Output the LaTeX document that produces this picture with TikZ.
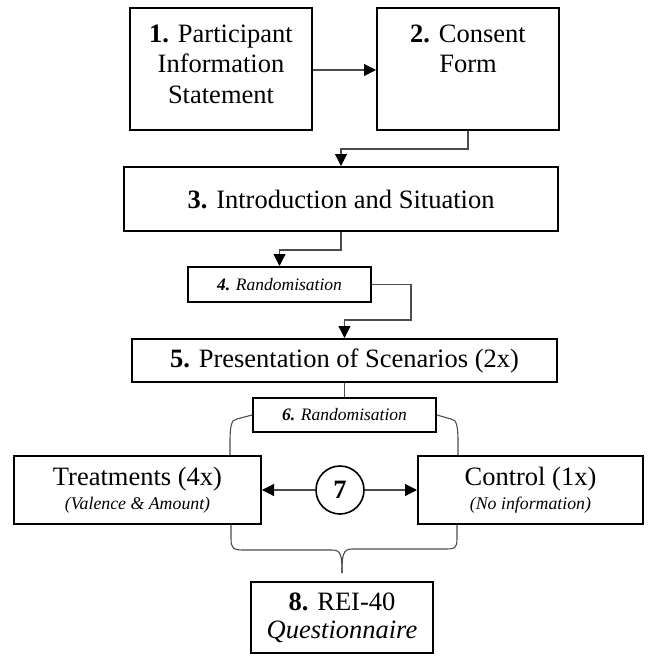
\documentclass[tikz,border=0pt]{standalone}
\usepackage{fontspec}
\setmainfont{Liberation Serif}[
  BoldFont={Liberation Serif Bold},
  ItalicFont={Liberation Serif Italic},
  BoldItalicFont={Liberation Serif Bold Italic}]
\usetikzlibrary{arrows.meta}
\tikzset{
  box/.style={draw,line width=2pt,align=center,inner sep=2pt},
  conn/.style={draw=black!70,line width=1.1pt},
  arr/.style={conn,-{Triangle[length=12pt,width=12pt,black]}},
}
\newcommand{\bigtxt}{\fontsize{26.5}{30.7}\selectfont}
\newcommand{\midtxt}{\fontsize{26.5}{28}\selectfont}
\newcommand{\randtxt}{\fontsize{17.5}{20}\selectfont\itshape}
\newcommand{\subtxt}{\fontsize{17.8}{20}\selectfont\itshape}
\begin{document}
\begin{tikzpicture}[x=1pt,y=-1pt]
\useasboundingbox (0,0) rectangle (648,656);
\node at (221,69) [box,font=\bigtxt,minimum width=182,minimum height=122] (pis) {\textbf{1.} Participant\\Information\\Statement\\[-21pt]\mbox{}};
\node at (468,69) [box,font=\bigtxt,minimum width=182,minimum height=122] (cf) {\textbf{2.} Consent\\Form\\\mbox{}\\[-21pt]\mbox{}};
\node at (341,199) [box,font=\midtxt,minimum width=434,minimum height=64] (intro) {\textbf{3.} Introduction and Situation};
\node at (279.5,284.5) [box,font=\randtxt,minimum width=183,minimum height=35] (rand1) {\textbf{4.} Randomisation};
\node at (344.5,360.5) [box,font=\midtxt,minimum width=425,minimum height=43] (pres) {\textbf{5.} Presentation of Scenarios (2x)};
\node at (344.5,415) [box,font=\randtxt,minimum width=183,minimum height=34] (rand2) {\textbf{6.} Randomisation};
\node at (137.5,490) [box,font=\midtxt,minimum width=247,minimum height=68] (treat) {Treatments (4x)\\[-4pt]{\subtxt (Valence \& Amount)}};
\node at (530.5,490) [box,font=\midtxt,minimum width=225,minimum height=68] (ctrl) {Control (1x)\\[-4pt]{\subtxt (No information)}};
\node at (340,490) [circle,draw,line width=1.6pt,font=\midtxt,minimum size=48,inner sep=0pt] (seven) {\textbf{7}};
\node at (342,617.5) [box,font=\midtxt,minimum width=182,minimum height=71] (rei) {\textbf{8.} REI-40\\\itshape Questionnaire};
\coordinate (tip) at (342,573);
\draw[arr] (pis.east |- 0,70) -- (cf.west |- 0,70);
\draw[arr] (cf.south) -- ++(0,18) -| (intro.north);
\draw[arr] (intro.south) -- ++(0,18) -| (rand1.north);
\draw[arr] (rand1.east) -- ++(39,0) -- ++(0,35.5) -| (pres.north);
\draw[conn] (pres.south) -- (rand2.north);
\draw[conn] (rand2.west) -- (237,419) .. controls (231,419) and (230,428) .. (230,442) -- (treat.north -| 230,0);
\draw[conn] (rand2.east) -- (451,419) .. controls (457,419) and (458,428) .. (458,442) -- (ctrl.north -| 458,0);
\draw[arr] (seven) -- (treat);
\draw[arr] (seven) -- (ctrl);
\draw[conn] (treat.south -| 231,0) -- (231,538) .. controls (231,549) and (233,550) .. (245,550) -- (332,550) .. controls (341,550) and (342,555) .. (tip);
\draw[conn] (ctrl.south -| 457,0) -- (457,538) .. controls (457,549) and (455,549) .. (443,549) -- (352,549) .. controls (343,549) and (342,555) .. (tip);
\end{tikzpicture}
\end{document}
